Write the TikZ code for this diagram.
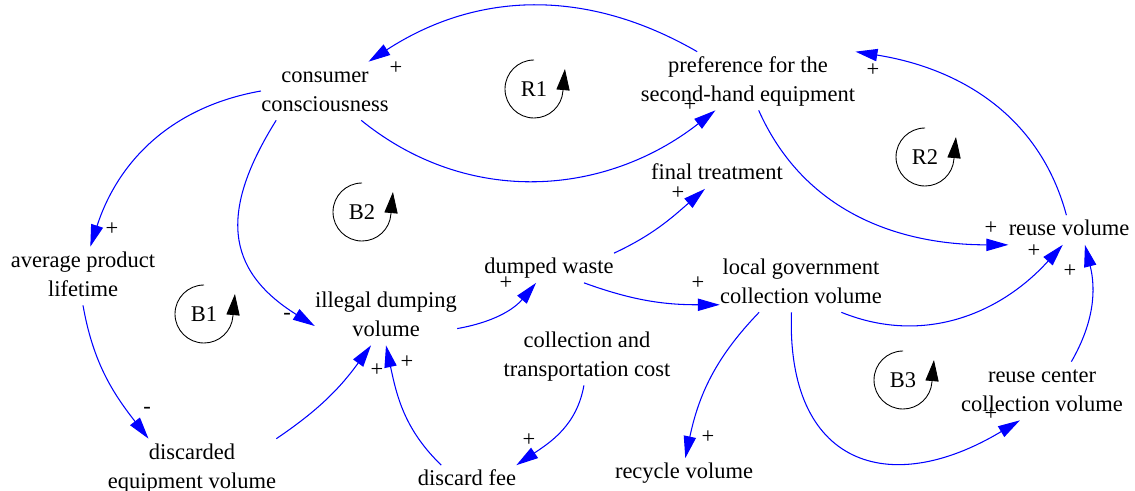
\documentclass[tikz,border=0pt]{standalone}
\usepackage{fontspec}
\setmainfont{Liberation Serif}
\usetikzlibrary{arrows.meta}

\begin{document}
\begin{tikzpicture}[x=0.02cm, y=0.02cm,
    var/.style={align=center, inner sep=0pt, font=\fontsize{12.8}{16.5}\selectfont, execute at begin node=\strut, execute at end node=\strut},
    arr/.style={blue, line width=0.6pt, -{Triangle[length=12.5pt, width=7pt]}},
    sgn/.style={text=black, font=\fontsize{12.8}{16.5}\selectfont, inner sep=0pt},
    lp/.style={font=\fontsize{12.8}{16.5}\selectfont, inner sep=0pt},
    lpc/.style={black, line width=0.5pt, -{Triangle[length=12pt, width=7.5pt]}}
]
\useasboundingbox (0,0) rectangle (1135,-490);

\node[var] (cc) at (325,-91) {\strut consumer\\consciousness};
\node[var] (pref) at (748,-81) {\strut preference for the\\second-hand equipment};
\node[var] (ft) at (717,-174) {final treatment};
\node[var] (rv) at (1069,-230) {reuse volume};
\node[var] (apl) at (83,-276) {\strut average product\\lifetime};
\node[var] (idv) at (386,-316) {\strut illegal dumping\\volume};
\node[var] (dw) at (549,-268) {dumped waste};
\node[var] (lg) at (801,-283) {\strut local government\\collection volume};
\node[var] (ctc) at (587,-356) {\strut collection and\\transportation cost};
\node[var] (rc) at (1042,-391) {\strut reuse center\\collection volume};
\node[var] (dev) at (192,-468) {\strut discarded\\equipment volume};
\node[var] (df) at (467,-480) {discard fee};
\node[var] (rcv) at (684,-473) {recycle volume};

\node[lp] (R1) at (534,-89) {R1};
\node[lp] (R2) at (925,-157) {R2};
\node[lp] (B1) at (204,-314) {B1};
\node[lp] (B2) at (362,-212) {B2};
\node[lp] (B3) at (903,-380) {B3};
\draw[lpc] (R1) ++(90:29) arc[start angle=90, end angle=356, radius=29] -- ++(2,22);
\draw[lpc] (R2) ++(90:29) arc[start angle=90, end angle=356, radius=29] -- ++(2,22);
\draw[lpc] (B1) ++(90:29) arc[start angle=90, end angle=356, radius=29] -- ++(2,22);
\draw[lpc] (B2) ++(90:29) arc[start angle=90, end angle=356, radius=29] -- ++(2,22);
\draw[lpc] (B3) ++(90:29) arc[start angle=90, end angle=356, radius=29] -- ++(2,22);

\draw[arr] (pref.150) to[out=150, in=33] (cc.34) node[sgn] (s1) at (396,-68) {+};
\draw[arr] (cc.-39) to[out=-39, in=-142] (pref.-138) node[sgn] (s2) at (690,-105) {+};
\draw[arr] (cc.west) to[out=190, in=72] (apl.76) node[sgn] (s3) at (112,-229) {+};
\draw[arr] (cc.-149) to[out=238, in=148, looseness=1.3] (idv.-172) node[sgn] (s4) at (287,-316) {-};
\draw[arr] (apl.south) to[out=-80, in=128] (dev.146) node[sgn] (s5) at (147,-410) {-};
\draw[arr] (dev.north east) to[out=34, in=-126] (idv.-117) node[sgn] (s6) at (377,-370) {+};
\draw[arr] (df.150) to[out=136, in=-78] (idv.south) node[sgn] (s7) at (407,-362) {+};
\draw[arr] (ctc.-96) to[out=-100, in=34] (df.north east) node[sgn] (s8) at (529,-440) {+};
\draw[arr] (idv.-10) to[out=10, in=-130] (dw.-131) node[sgn] (s9) at (506,-283) {+};
\draw[arr] (dw.north east) to[out=25, in=-139] (ft.-129) node[sgn] (s10) at (678,-193) {+};
\draw[arr] (dw.-23) to[out=-20, in=180] (lg.-165) node[sgn] (s11) at (698,-283) {+};
\draw[arr] (lg.-145) to[out=-134, in=78] (rcv.85) node[sgn] (s12) at (708,-437) {+};
\draw[arr] (lg.-36) to[out=-22, in=-132] (rv.-113) node[sgn] (s13) at (1034,-251) {+};
\draw[arr] (lg.-108) to[out=-92, in=-149, looseness=1.55] (rc.-127) node[sgn] (s14) at (991,-414) {+};
\draw[arr] (rc.45) to[out=60, in=-76] (rv.-43) node[sgn] (s15) at (1070,-271) {+};
\draw[arr] (pref.-70) to[out=-66, in=180] (rv.south west) node[sgn] (s16) at (991,-228) {+};
\draw[arr] (rv.100) to[out=105, in=-9] (pref.north east) node[sgn] (s17) at (873,-70) {+};
\end{tikzpicture}
\end{document}
